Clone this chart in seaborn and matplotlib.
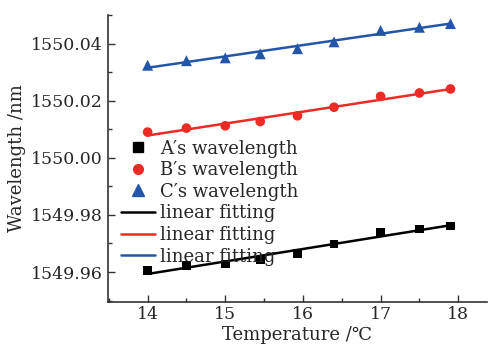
import numpy as np
import pandas as pd
import matplotlib
matplotlib.use("Agg")
import matplotlib.pyplot as plt
from matplotlib.ticker import MultipleLocator
from matplotlib.lines import Line2D
import seaborn as sns

temperature = [14.0, 14.5, 15.0, 15.45, 15.93, 16.4, 17.0, 17.5, 17.9]
wl_a = [1549.9605, 1549.9622, 1549.9628, 1549.9642, 1549.9666, 1549.9698, 1549.9739, 1549.9751, 1549.9761]
wl_b = [1550.0090, 1550.0104, 1550.0112, 1550.0127, 1550.0147, 1550.0177, 1550.0215, 1550.0227, 1550.0241]
wl_c = [1550.0324, 1550.0340, 1550.0350, 1550.0364, 1550.0382, 1550.0406, 1550.0446, 1550.0457, 1550.0470]
series_names = ["A\u2032s wavelength", "B\u2032s wavelength", "C\u2032s wavelength"]
fit_name = "linear fitting"

sns.set_style("ticks")
plt.rcParams['font.family'] = ['DejaVu Serif', 'DejaVu Sans']
plt.rcParams['mathtext.fontset'] = 'dejavuserif'

colors = ['black', '#ee2a24', '#2456a8']
markers = ['s', 'o', '^']
sizes = [40, 48, 62]

fig = plt.figure(figsize=(4.89, 3.46), dpi=100)
ax = fig.add_axes([108/489, 44/346, 379/489, 287/346])

df = pd.DataFrame({'T': temperature, 'A': wl_a, 'B': wl_b, 'C': wl_c})

for col, c, m, s in zip(['A', 'B', 'C'], colors, markers, sizes):
    sns.scatterplot(x='T', y=col, data=df, color=c, marker=m, s=s,
                    edgecolor='none', ax=ax, zorder=3)
for col, c in zip(['A', 'B', 'C'], colors):
    sns.regplot(x='T', y=col, data=df, scatter=False, ci=None, color=c,
                line_kws={'lw': 1.8}, ax=ax)

ax.set_xlim(13.49, 18.37)
ax.set_ylim(1549.9495, 1550.050)
ax.xaxis.set_major_locator(MultipleLocator(1))
ax.xaxis.set_minor_locator(MultipleLocator(0.5))
ax.yaxis.set_major_locator(MultipleLocator(0.02))
ax.yaxis.set_minor_locator(MultipleLocator(0.01))
ax.yaxis.set_major_formatter(matplotlib.ticker.FormatStrFormatter('%.2f'))
ax.tick_params(which='both', direction='in', labelsize=12.5, color='#333333')
ax.tick_params(which='major', length=5, width=1)
ax.tick_params(which='minor', length=3, width=1)
ax.tick_params(axis='x', pad=3)
for sp in ['top', 'right']:
    ax.spines[sp].set_visible(False)
for sp in ['left', 'bottom']:
    ax.spines[sp].set_color('#333333')
    ax.spines[sp].set_linewidth(1.2)

ax.set_xlabel("Temperature /\u2103", fontsize=13, labelpad=2)
ax.set_ylabel("Wavelength /nm", fontsize=13, labelpad=4)

handles = [Line2D([], [], ls='none', marker=m, color=c, markersize=ms)
           for m, c, ms in zip(markers, colors, [6.5, 7, 8])]
handles += [Line2D([], [], color=c, lw=1.8) for c in colors]
labels = series_names + [fit_name] * 3
ax.legend(handles, labels, loc='upper left', bbox_to_anchor=(0.0, 0.61),
          frameon=False, fontsize=13, handlelength=1.9, handletextpad=0.3,
          labelspacing=0.2, borderaxespad=0.3)

fig.savefig("out.png", dpi=100)
